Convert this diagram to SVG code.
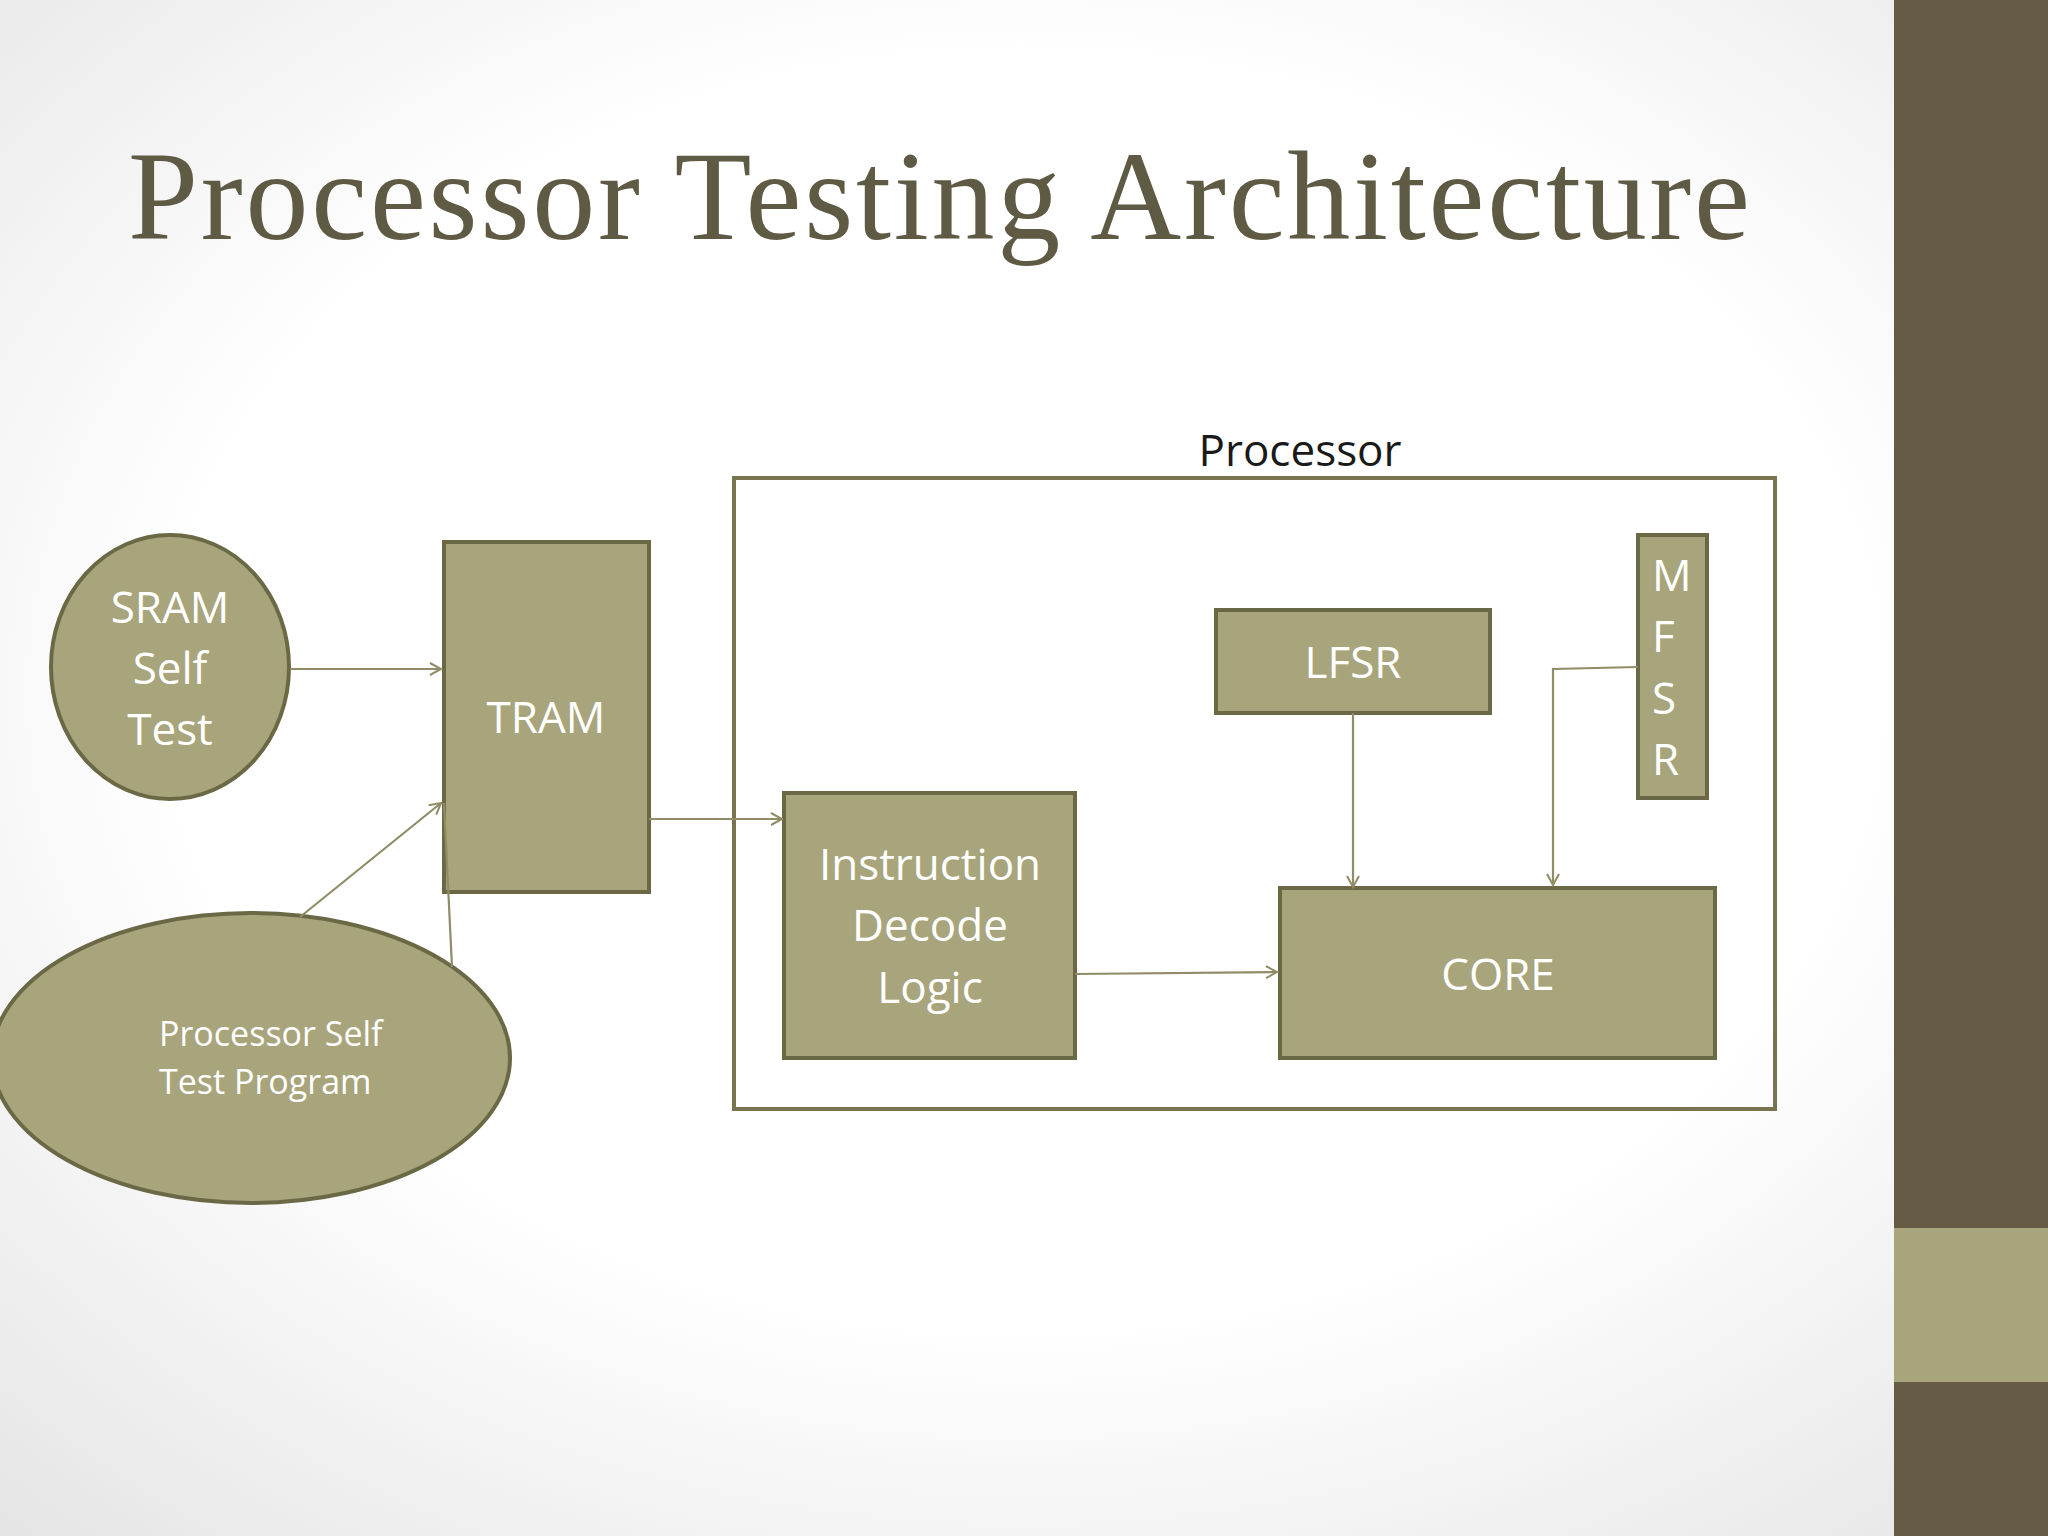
<svg xmlns="http://www.w3.org/2000/svg" width="2048" height="1536" viewBox="0 0 2048 1536">
<defs>
<radialGradient id="bg" cx="0.5" cy="0.45" r="0.75">
<stop offset="0.55" stop-color="#ffffff"/><stop offset="1" stop-color="#e4e4e4"/>
</radialGradient>
<marker id="ar" markerWidth="14" markerHeight="14" refX="12" refY="7" orient="auto" markerUnits="userSpaceOnUse">
<path d="M1,1 L12,7 L1,13" fill="none" stroke="#8f8c66" stroke-width="2"/>
</marker>
</defs>
<style>
.n{fill:#a8a57c;stroke:#6b6845;stroke-width:4}
.t{font-family:"Open Sans","Noto Sans",sans-serif;fill:#ffffff;font-size:44px}
.c{fill:none;stroke:#8f8c66;stroke-width:2.2}
</style>
<rect width="2048" height="1536" fill="url(#bg)"/>
<rect x="1894" y="0" width="154" height="1536" fill="#665c45"/>
<rect x="1894" y="1228" width="154" height="154" fill="#a8a57c"/>
<text x="128" y="239" font-family="Liberation Serif,serif" font-size="126" fill="#5f5a43" textLength="1622">Processor Testing Architecture</text>
<g id="processor">
<rect x="734" y="478" width="1041" height="631" fill="none" stroke="#77744f" stroke-width="4"/>
<text x="1300" y="466" text-anchor="middle" font-family="Open Sans,sans-serif" font-size="44" fill="#1a1a1a">Processor</text>
</g>
<g id="sram">
<ellipse cx="170" cy="667" rx="119" ry="132" class="n"/>
<text class="t" text-anchor="middle"><tspan x="170" y="623">SRAM</tspan><tspan x="170" y="684">Self</tspan><tspan x="170" y="745">Test</tspan></text>
</g>
<g id="pstp">
<ellipse cx="251" cy="1058" rx="259" ry="145" class="n"/>
<text class="t" style="font-size:34px"><tspan x="159" y="1046">Processor Self</tspan><tspan x="159" y="1094">Test Program</tspan></text>
</g>
<g id="tram">
<rect x="444" y="542" width="205" height="350" class="n"/>
<text class="t" x="546" y="733" text-anchor="middle">TRAM</text>
</g>
<g id="idl">
<rect x="784" y="793" width="291" height="265" class="n"/>
<text class="t" text-anchor="middle"><tspan x="930" y="880">Instruction</tspan><tspan x="930" y="941">Decode</tspan><tspan x="930" y="1003">Logic</tspan></text>
</g>
<g id="lfsr">
<rect x="1216" y="610" width="274" height="103" class="n"/>
<text class="t" x="1353" y="678" text-anchor="middle">LFSR</text>
</g>
<g id="mfsr">
<rect x="1638" y="535" width="69" height="263" class="n"/>
<text class="t"><tspan x="1652" y="591">M</tspan><tspan x="1652" y="652">F</tspan><tspan x="1652" y="714">S</tspan><tspan x="1652" y="775">R</tspan></text>
</g>
<g id="core">
<rect x="1280" y="888" width="435" height="170" class="n"/>
<text class="t" x="1498" y="990" text-anchor="middle">CORE</text>
</g>
<g id="connectors">
<line x1="290" y1="669" x2="441" y2="669" class="c" marker-end="url(#ar)"/>
<line x1="300" y1="917" x2="441" y2="803" class="c" marker-end="url(#ar)"/>
<line x1="452" y1="967" x2="444" y2="803" class="c"/>
<line x1="649" y1="819" x2="782" y2="819" class="c" marker-end="url(#ar)"/>
<line x1="1075" y1="974" x2="1277" y2="972" class="c" marker-end="url(#ar)"/>
<line x1="1353" y1="713" x2="1353" y2="887" class="c" marker-end="url(#ar)"/>
<polyline points="1638,667 1553,669 1553,885" class="c" marker-end="url(#ar)"/>
</g>
</svg>
